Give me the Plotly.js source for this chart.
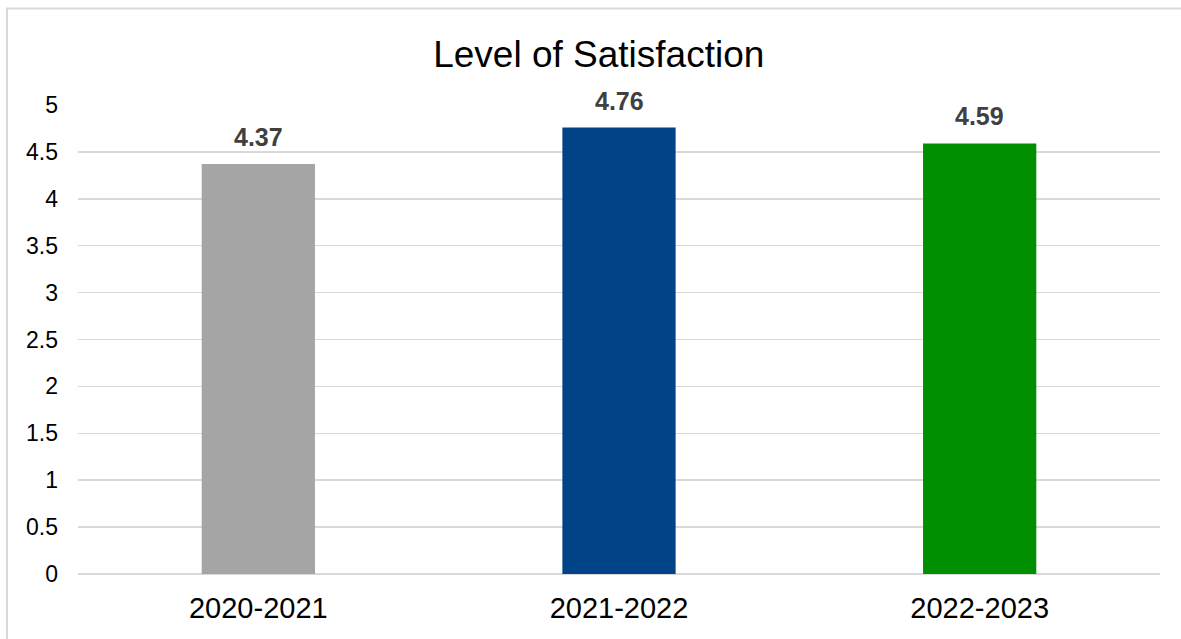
<!DOCTYPE html>
<html><head><meta charset="utf-8">
<script src="https://cdn.plot.ly/plotly-3.0.1.min.js"></script>
<style>html,body{margin:0;padding:0;background:#fff}#chart{width:1181px;height:639px}</style>
</head><body><div id="chart"></div>
<script>
const categories = ["2020-2021", "2021-2022", "2022-2023"];
const satisfaction = [4.37, 4.76, 4.59];
const barColors = ["#A5A5A5", "#004386", "#008F00"];
const yTicks = [0, 0.5, 1, 1.5, 2, 2.5, 3, 3.5, 4, 4.5, 5];

const trace = {
  type: "bar",
  x: categories,
  y: satisfaction,
  marker: {color: barColors},
  width: 0.314,
  hoverinfo: "none"
};

const labels = categories.map((c, i) => ({
  x: c, y: satisfaction[i], xref: "x", yref: "y",
  text: "<b>" + satisfaction[i].toFixed(2) + "</b>",
  showarrow: false, yanchor: "bottom", yshift: 11,
  font: {family: "Liberation Sans, Arial", size: 25, color: "#404040"}
}));

const layout = {
  width: 1181, height: 639,
  margin: {l: 78, r: 21, t: 105, b: 65},
  paper_bgcolor: "#fff", plot_bgcolor: "#fff",
  font: {family: "Liberation Sans, Arial", color: "#000"},
  title: {text: "Level of Satisfaction", font: {size: 37, color: "#000"}, x: 0.507, xref: "container", xanchor: "center", y: 0.915, yref: "container", yanchor: "middle"},
  showlegend: false,
  xaxis: {type: "category", showgrid: false, zeroline: false, showline: false, ticks: "", tickfont: {size: 29, color: "#000"}, ticklabelstandoff: 14},
  yaxis: {range: [0, 5], tickvals: yTicks, ticktext: yTicks.map(String), showgrid: true, gridcolor: "#D9D9D9", gridwidth: 1.5,
          zeroline: true, zerolinecolor: "#D9D9D9", zerolinewidth: 1.5, showline: false, ticks: "", ticklabelstandoff: 19,
          tickfont: {size: 23, color: "#000"}},
  annotations: labels,
  shapes: [{type: "rect", xref: "paper", yref: "paper",
            x0: (7 - 78) / 1082, x1: 1.1, y0: -0.3, y1: (574 - 8.5) / 469,
            line: {color: "#D9D9D9", width: 2}, fillcolor: "rgba(0,0,0,0)", layer: "below"}]
};

Plotly.newPlot("chart", [trace], layout, {displayModeBar: false, staticPlot: true});
</script></body></html>
